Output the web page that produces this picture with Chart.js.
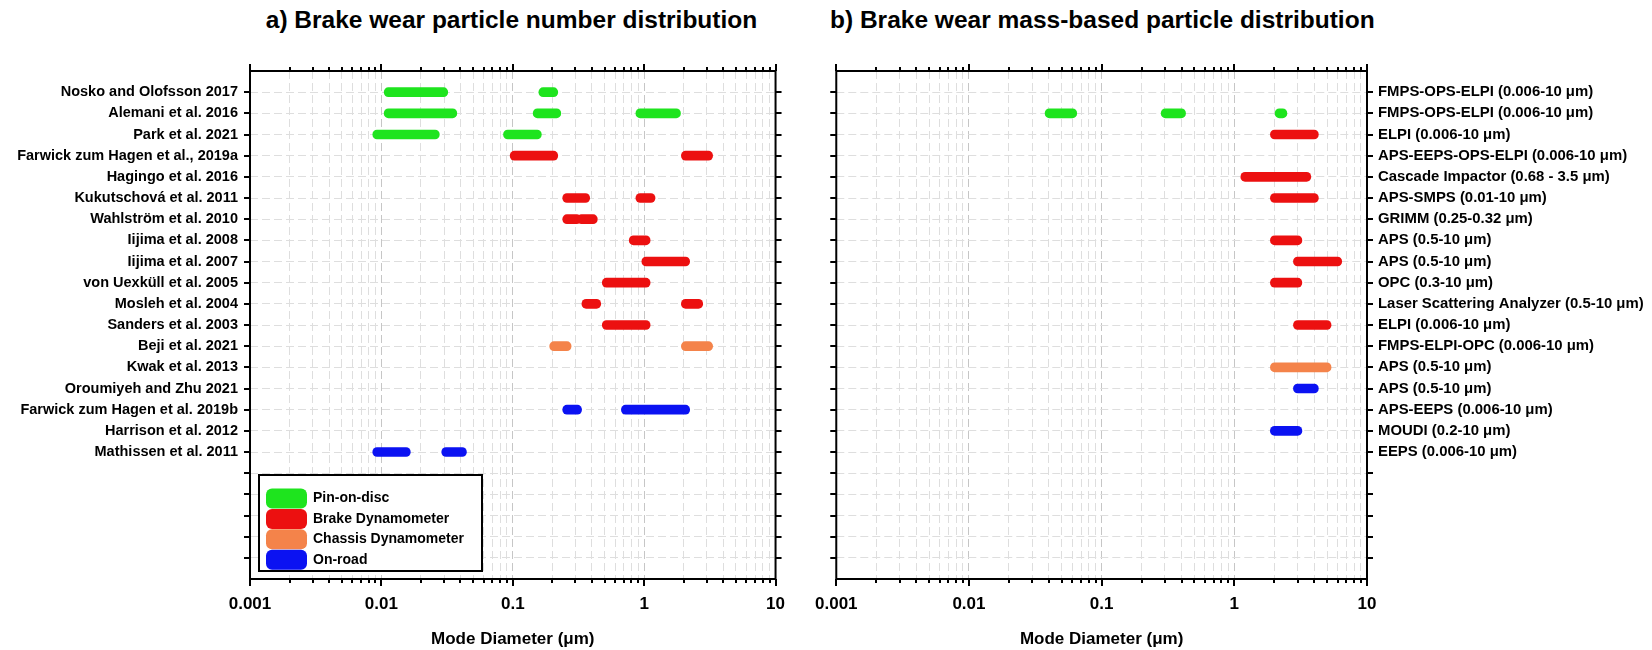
<!DOCTYPE html>
<html>
<head>
<meta charset="utf-8">
<script src="https://cdn.jsdelivr.net/npm/chart.js@4.4.1/dist/chart.umd.min.js"></script>
<style>
  body { margin: 0; width: 1652px; height: 650px; background: #fff; position: relative; overflow: hidden;
         font-family: "Liberation Sans", Arial, sans-serif; }
  .panel { position: absolute; top: 0; height: 650px; }
  #numberPanel { left: 0; width: 800px; }
  #massPanel { left: 800px; width: 852px; }
  .title { position: absolute; top: 6px; font-weight: bold; font-size: 24.5px; line-height: 28px;
           text-align: center; white-space: nowrap; color: #000; }
</style>
</head>
<body>
<div class="title" style="left:245px;width:533px">a) Brake wear particle number distribution</div>
<div class="title" style="left:830px;width:532px">b) Brake wear mass-based particle distribution</div>
<div class="panel" id="numberPanel"><canvas id="chartNumber"></canvas></div>
<div class="panel" id="massPanel"><canvas id="chartMass"></canvas></div>
<script>
const studies = ['Nosko and Olofsson 2017', 'Alemani et al. 2016', 'Park et al. 2021',
    'Farwick zum Hagen et al., 2019a', 'Hagingo et al. 2016', 'Kukutschová et al. 2011',
    'Wahlström et al. 2010', 'Iijima et al. 2008', 'Iijima et al. 2007', 'von Uexküll et al. 2005',
    'Mosleh et al. 2004', 'Sanders et al. 2003', 'Beji et al. 2021', 'Kwak et al. 2013',
    'Oroumiyeh and Zhu 2021', 'Farwick zum Hagen et al. 2019b', 'Harrison et al. 2012',
    'Mathissen et al. 2011'];
const instruments = ['FMPS-OPS-ELPI (0.006-10 μm)', 'FMPS-OPS-ELPI (0.006-10 μm)', 'ELPI (0.006-10 μm)',
    'APS-EEPS-OPS-ELPI (0.006-10 μm)', 'Cascade Impactor (0.68 - 3.5 μm)', 'APS-SMPS (0.01-10 μm)',
    'GRIMM (0.25-0.32 μm)', 'APS (0.5-10 μm)', 'APS (0.5-10 μm)', 'OPC (0.3-10 μm)',
    'Laser Scattering Analyzer (0.5-10 μm)', 'ELPI (0.006-10 μm)', 'FMPS-ELPI-OPC (0.006-10 μm)',
    'APS (0.5-10 μm)', 'APS (0.5-10 μm)', 'APS-EEPS (0.006-10 μm)', 'MOUDI (0.2-10 μm)',
    'EEPS (0.006-10 μm)'];
const methods = ['Pin-on-disc', 'Brake Dynamometer', 'Chassis Dynamometer', 'On-road'];
const methodColors = ['#1ee41e', '#ec1010', '#f4834a', '#0b12f2'];
const decadeValues = [0.001, 0.01, 0.1, 1, 10];
const decadeLabels = ['0.001', '0.01', '0.1', '1', '10'];
const rowCount = 23;   // 18 studies + 5 empty rows below

// number-based mode ranges (µm), one list of [from, to] per study
const numberMethod = [0, 0, 0, 1, 1, 1, 1, 1, 1, 1, 1, 1, 2, 2, 3, 3, 3, 3];
const numberModes = [
  [[0.0105, 0.032], [0.158, 0.22]],
  [[0.0105, 0.0375], [0.143, 0.232], [0.865, 1.89]],
  [[0.0086, 0.0276], [0.085, 0.165]],
  [[0.0955, 0.22], [1.92, 3.32]],
  [],
  [[0.24, 0.385], [0.865, 1.21]],
  [[0.24, 0.33], [0.31, 0.44]],
  [[0.77, 1.11]],
  [[0.96, 2.22]],
  [[0.48, 1.11]],
  [[0.336, 0.467], [1.92, 2.79]],
  [[0.48, 1.11]],
  [[0.191, 0.278], [1.92, 3.32]],
  [],
  [],
  [[0.24, 0.334], [0.671, 2.22]],
  [],
  [[0.0086, 0.0166], [0.0288, 0.0444]]
];

// mass-based mode ranges (µm)
const massMethod = [0, 0, 1, 1, 1, 1, 1, 1, 1, 1, 1, 1, 2, 2, 3, 3, 3, 3];
const massModes = [
  [],
  [[0.0375, 0.0649], [0.281, 0.429], [2.03, 2.49]],
  [[1.87, 4.30]],
  [],
  [[1.12, 3.77]],
  [[1.87, 4.30]],
  [],
  [[1.87, 3.23]],
  [[2.79, 6.45]],
  [[1.87, 3.23]],
  [],
  [[2.79, 5.36]],
  [],
  [[1.87, 5.36]],
  [[2.79, 4.30]],
  [],
  [[1.87, 3.23]],
  []
];

Chart.defaults.font.family = '"Liberation Sans", Arial, sans-serif';
Chart.defaults.color = '#000';

// log ticks: 1..9 in every decade, majors on the decades
const logTicks = [];
decadeValues.forEach((d, i) => {
  const last = i === decadeValues.length - 1;
  for (let k = 1; k < (last ? 2 : 10); k++) {
    logTicks.push({value: +(d * k).toPrecision(3), major: k === 1});
  }
});
const rowTicks = Array.from({length: rowCount}, (_, i) => ({value: i + 1}));

function buildDatasets(methodOf, modes) {
  return methods.map((name, m) => ({
    label: name,
    data: modes.flatMap((ranges, i) =>
      methodOf[i] === m ? ranges.map(r => ({x: r, y: i + 1})) : []),
    backgroundColor: methodColors[m],
    borderWidth: 0,
    borderRadius: 5,
    borderSkipped: false,
    barThickness: 9,
    grouped: false
  }));
}

// black box round the plot, with outward tick marks on all four sides
const frame = {
  id: 'frame',
  afterDatasetsDraw(chart) {
    const {ctx, chartArea: a, scales: {x, y}} = chart;
    ctx.save();
    ctx.strokeStyle = '#000';
    ctx.lineWidth = 2;
    ctx.beginPath();
    x.ticks.forEach(t => {
      const px = Math.round(x.getPixelForValue(t.value));
      const len = t.major ? 7 : 4;
      ctx.moveTo(px, a.bottom); ctx.lineTo(px, a.bottom + len);
      ctx.moveTo(px, a.top); ctx.lineTo(px, a.top - len);
    });
    y.ticks.forEach(t => {
      const py = Math.round(y.getPixelForValue(t.value));
      ctx.moveTo(a.left - 6, py); ctx.lineTo(a.left, py);
      ctx.moveTo(a.right, py); ctx.lineTo(a.right + 6, py);
    });
    ctx.stroke();
    ctx.strokeRect(a.left, a.top, a.right - a.left, a.bottom - a.top);
    ctx.restore();
  }
};

// legend box in the lower left corner of the number panel
const methodLegend = {
  id: 'methodLegend',
  afterDraw(chart) {
    const {ctx, chartArea: a} = chart;
    const bx = a.left + 9, by = a.bottom - 104, bw = 223, bh = 96;
    ctx.save();
    ctx.fillStyle = '#fff';
    ctx.fillRect(bx, by, bw, bh);
    ctx.strokeStyle = '#000';
    ctx.lineWidth = 2;
    ctx.strokeRect(bx, by, bw, bh);
    ctx.font = 'bold 14px "Liberation Sans", Arial, sans-serif';
    ctx.textBaseline = 'middle';
    methods.forEach((name, i) => {
      const cy = by + 23.5 + i * 20.4;
      ctx.fillStyle = methodColors[i];
      ctx.beginPath();
      ctx.roundRect(bx + 7, cy - 10, 41, 20, 6);
      ctx.fill();
      ctx.fillStyle = '#000';
      ctx.fillText(name, bx + 54, cy);
    });
    ctx.restore();
  }
};

function panelOptions(rowLabels, side) {
  const left = side === 'left';
  return {
    indexAxis: 'y',
    responsive: true,
    maintainAspectRatio: false,
    animation: false,
    layout: {padding: left ? {top: 71, right: 17, bottom: 0, left: 0}
                            : {top: 71, right: 0, bottom: 0, left: 35}},
    plugins: {legend: {display: false}, tooltip: {enabled: false}},
    scales: {
      x: {
        type: 'logarithmic',
        min: 0.001,
        max: 10,
        afterBuildTicks: s => { s.ticks = logTicks.map(t => ({...t})); },
        afterFit: s => { s.height = 71; },
        ticks: {
          autoSkip: false,
          maxRotation: 0,
          padding: 15,
          font: {size: 17, weight: 'bold'},
          callback: (v, i, ticks) => ticks[i].major
            ? decadeLabels[Math.round(Math.log10(v)) + 3] : ''
        },
        grid: {
          drawTicks: false,
          color: c => (c.tick && c.tick.major) ? '#c6c6c6' : '#dedede',
          lineWidth: 1
        },
        border: {display: false, dash: [8, 4]},
        title: {
          display: true,
          text: 'Mode Diameter (μm)',
          font: {size: 17, weight: 'bold'},
          padding: {top: 0, bottom: 0}
        }
      },
      y: {
        type: 'linear',
        position: side,
        reverse: true,
        min: 0,
        max: rowCount + 1,
        offset: false,
        afterBuildTicks: s => { s.ticks = rowTicks.map(t => ({...t})); },
        afterFit: s => { s.width = left ? 250 : 285; },
        ticks: {
          autoSkip: false,
          padding: left ? 12 : 11,
          font: {size: left ? 14.5 : 14.9, weight: 'bold'},
          callback: v => rowLabels[v - 1] || ''
        },
        grid: {drawTicks: false, offset: false, color: '#dedede', lineWidth: 1},
        border: {display: false, dash: [8, 4]}
      }
    }
  };
}

new Chart(document.getElementById('chartNumber'), {
  type: 'bar',
  data: {datasets: buildDatasets(numberMethod, numberModes)},
  options: panelOptions(studies, 'left'),
  plugins: [frame, methodLegend]
});

new Chart(document.getElementById('chartMass'), {
  type: 'bar',
  data: {datasets: buildDatasets(massMethod, massModes)},
  options: panelOptions(instruments, 'right'),
  plugins: [frame]
});
</script>
</body>
</html>
